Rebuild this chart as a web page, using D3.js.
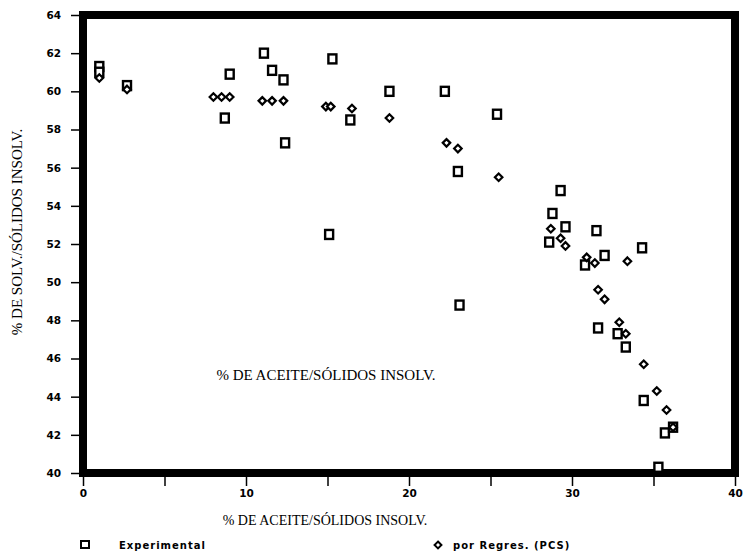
<!DOCTYPE html>
<html>
<head>
<meta charset="utf-8">
<script src="https://cdn.jsdelivr.net/npm/d3@7"></script>
<style>
body { margin: 0; background: #fff; }
svg { display: block; }
.tick text { font-family: "DejaVu Sans", sans-serif; font-weight: bold; font-size: 10.5px; }
.titulo { font-family: "Liberation Serif", serif; font-size: 14px; }
.leyenda { font-family: "DejaVu Sans", sans-serif; font-weight: bold; font-size: 10px; letter-spacing: 1px; }
</style>
</head>
<body>
<div id="grafico"></div>
<script>
// valores (x = % aceite/solidos insolv., y = % solv./solidos insolv.)
var expX = [1.0, 1.0, 2.7, 9.0, 8.7, 11.1, 11.6, 12.3, 12.4, 15.3, 16.4, 15.1, 18.8, 22.2, 23.0, 23.1, 25.4,
            29.3, 28.8, 29.6, 28.6, 31.5, 32.0, 30.8, 34.3, 31.6, 32.8, 33.3, 34.4, 35.7, 35.3, 36.2]
var expY = [61.3, 61.0, 60.3, 60.9, 58.6, 62.0, 61.1, 60.6, 57.3, 61.7, 58.5, 52.5, 60.0, 60.0, 55.8, 48.8, 58.8,
            54.8, 53.6, 52.9, 52.1, 52.7, 51.4, 50.9, 51.8, 47.6, 47.3, 46.6, 43.8, 42.1, 40.3, 42.4]
var regX = [1.0, 2.7, 8.0, 8.5, 9.0, 11.0, 11.6, 12.3, 14.9, 15.2, 16.5, 18.8, 22.3, 23.0, 25.5,
            28.7, 29.3, 29.6, 30.9, 31.4, 33.4, 31.6, 32.0, 32.9, 33.3, 34.4, 35.2, 35.8, 36.2]
var regY = [60.7, 60.1, 59.7, 59.7, 59.7, 59.5, 59.5, 59.5, 59.2, 59.2, 59.1, 58.6, 57.3, 57.0, 55.5,
            52.8, 52.3, 51.9, 51.3, 51.0, 51.1, 49.6, 49.1, 47.9, 47.3, 45.7, 44.3, 43.3, 42.4]
var xTicks = [0, 5, 10, 15, 20, 25, 30, 35, 40]
var xLabels = [0, 10, 20, 30, 40]
var yTicks = [64, 62, 60, 58, 56, 54, 52, 50, 48, 46, 44, 42, 40]
var series = ["Experimental", "por Regres. (PCS)"]

var width = 748, height = 551
var svg = d3.select("#grafico").append("svg")
    .attr("width", width)
    .attr("height", height)

var x = d3.scaleLinear().domain([0, 40]).range([83, 735])
var y = d3.scaleLinear().domain([40, 64]).range([473, 15])

// ejes
var ejeY = svg.append("g")
    .attr("transform", "translate(83,0)")
    .call(d3.axisLeft(y).tickValues(yTicks).tickSize(12).tickPadding(10).tickFormat(d3.format("d")))
ejeY.select(".domain").remove()
ejeY.selectAll("line").attr("stroke", "#000").attr("stroke-width", 1.5)

var ejeX = svg.append("g")
    .attr("transform", "translate(0,473)")
    .call(d3.axisBottom(x).tickValues(xTicks).tickSize(13).tickPadding(4)
        .tickFormat(function(d) { return xLabels.indexOf(d) >= 0 ? d : "" }))
ejeX.select(".domain").remove()
ejeX.selectAll("line").attr("stroke", "#000").attr("stroke-width", 1.5)

// marco grueso
svg.append("rect")
    .attr("x", x(0)).attr("y", y(64))
    .attr("width", x(40) - x(0)).attr("height", y(40) - y(64))
    .attr("fill", "none").attr("stroke", "#000").attr("stroke-width", 8)

// titulos
svg.append("text").attr("class", "titulo")
    .attr("transform", "translate(22,232) rotate(-90)")
    .attr("text-anchor", "middle")
    .style("font-size", "15px")
    .text("% DE SOLV./SÓLIDOS INSOLV.")
svg.append("text").attr("class", "titulo")
    .attr("x", 325).attr("y", 525)
    .attr("text-anchor", "middle")
    .text("% DE ACEITE/SÓLIDOS INSOLV.")
svg.append("text").attr("class", "titulo")
    .attr("x", 326).attr("y", 380)
    .attr("text-anchor", "middle")
    .style("font-size", "15px")
    .text("% DE ACEITE/SÓLIDOS INSOLV.")

// puntos experimentales (cuadrados)
var expData = expX.map(function(d, i) { return [d, expY[i]] })
svg.selectAll(".exp")
    .data(expData)
    .enter()
    .append("rect")
    .attr("class", "exp")
    .attr("x", function(d) { return x(d[0]) - 4 })
    .attr("y", function(d) { return y(d[1]) - 4.5 })
    .attr("width", 8).attr("height", 9)
    .attr("fill", "#fff").attr("stroke", "#000").attr("stroke-width", 2.4)

// puntos por regresion (rombos)
var regData = regX.map(function(d, i) { return [d, regY[i]] })
var rombo = d3.symbol().type(d3.symbolDiamond2).size(36)
svg.selectAll(".reg")
    .data(regData)
    .enter()
    .append("path")
    .attr("class", "reg")
    .attr("d", rombo)
    .attr("transform", function(d) { return "translate(" + x(d[0]) + "," + y(d[1]) + ")" })
    .attr("fill", "#fff").attr("stroke", "#000").attr("stroke-width", 2.2)

// leyenda
svg.append("rect")
    .attr("x", 81).attr("y", 541).attr("width", 8).attr("height", 7)
    .attr("fill", "#fff").attr("stroke", "#000").attr("stroke-width", 2)
svg.append("text").attr("class", "leyenda")
    .attr("x", 119).attr("y", 549).text(series[0])
svg.append("path")
    .attr("d", d3.symbol().type(d3.symbolDiamond2).size(30))
    .attr("transform", "translate(438,545)")
    .attr("fill", "#fff").attr("stroke", "#000").attr("stroke-width", 2)
svg.append("text").attr("class", "leyenda")
    .attr("x", 453).attr("y", 549).text(series[1])
</script>
</body>
</html>
